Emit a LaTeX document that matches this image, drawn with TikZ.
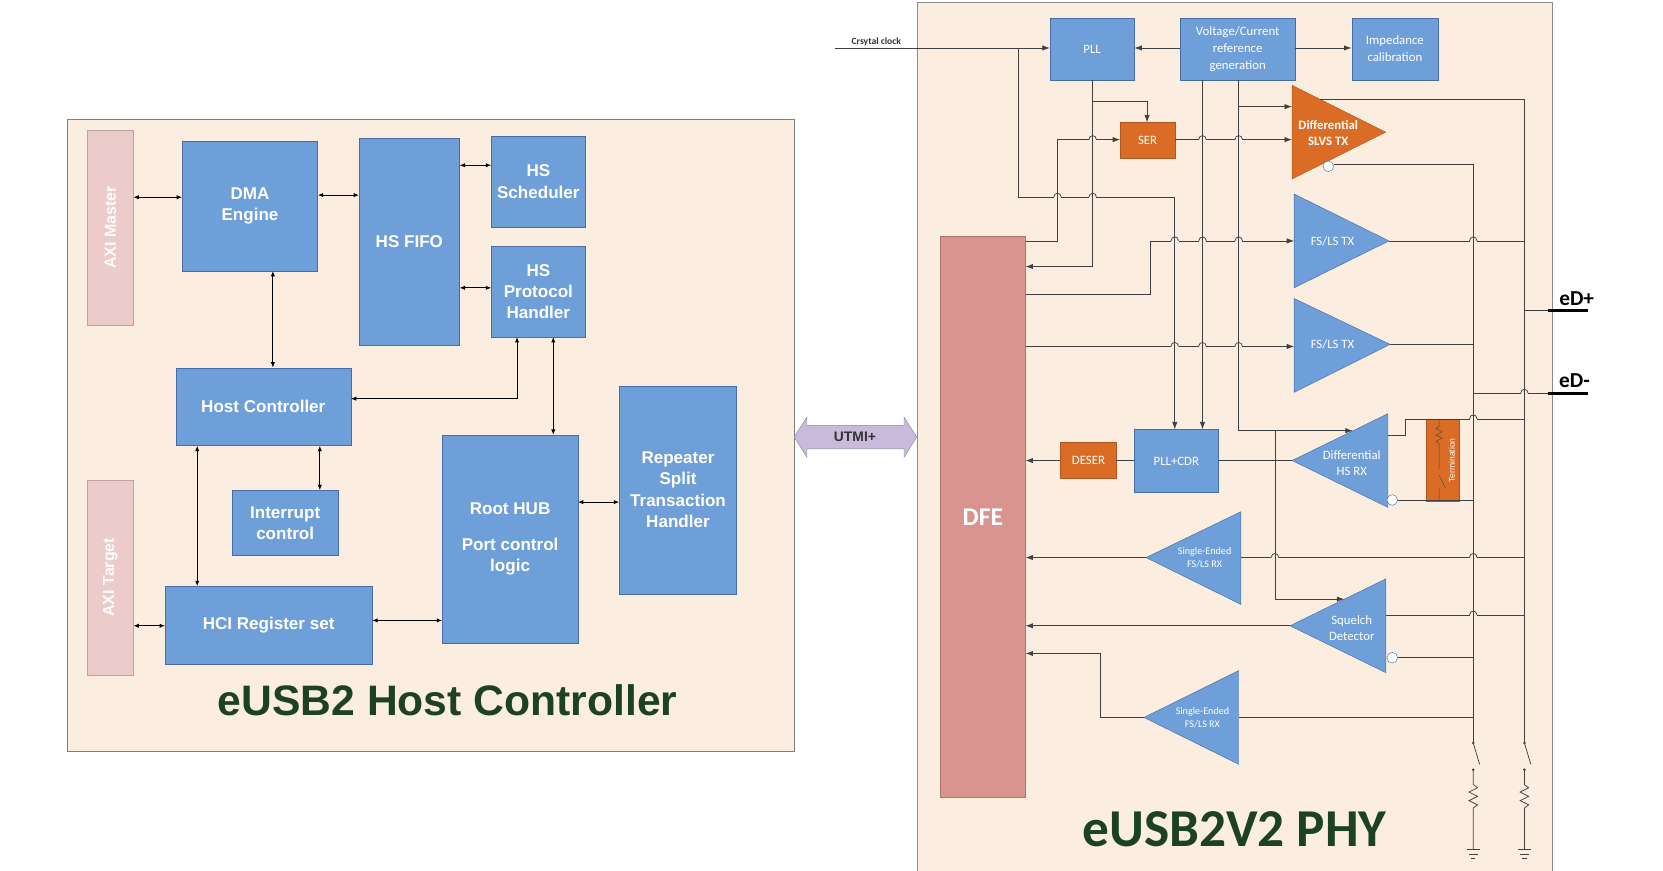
\documentclass[tikz,border=0pt]{standalone}
\usepackage{fontspec}
\setmainfont{Liberation Sans}
\newfontfamily\carl{Carlito}
\usetikzlibrary{arrows.meta}
\definecolor{peach}{RGB}{252,237,225}
\definecolor{blu}{RGB}{111,159,216}
\definecolor{bord}{RGB}{70,110,165}
\definecolor{pinkb}{RGB}{236,204,202}
\definecolor{dfec}{RGB}{217,148,143}
\definecolor{orng}{RGB}{218,108,38}
\definecolor{dgreen}{RGB}{28,66,34}
\definecolor{lav}{RGB}{201,186,220}
\newcommand\bx[7]{\node[#7, minimum width={(#4-#2)*1pt}, minimum height={(#5-#3)*1pt}] (#1) at ({(#2+#4)/2},{(#3+#5)/2}) {#6};}
\newcommand\hp[2]{\fill[peach] (#1-3.5,#2-1.2) rectangle (#1+3.5,#2+1.2); \draw[wire] (#1-3.5,#2) .. controls (#1-3.5,#2-5) and (#1+3.5,#2-5) .. (#1+3.5,#2);}
\begin{document}
\begin{tikzpicture}[x=1pt,y=-1pt,
  blk/.style={draw=bord, fill=blu, text=white, align=center, inner sep=0pt, font=\fontsize{16}{20}\selectfont\bfseries},
  pblk/.style={draw=bord, fill=blu, text=white, align=center, inner sep=0pt, font=\carl\fontsize{12}{16}\selectfont},
  oblk/.style={draw=orng!80!black, fill=orng, text=white, align=center, inner sep=0pt, font=\carl\fontsize{12}{16}\selectfont},
  axi/.style={draw=pinkb!80!black, fill=pinkb, text=white!95!pinkb, inner sep=0pt, font=\fontsize{15}{18}\selectfont\bfseries},
  da/.style={{Latex[length=5pt,width=4pt]}-{Latex[length=5pt,width=4pt]}, line width=0.8pt},
  wire/.style={draw=black!75, line width=0.7pt},
  ar/.style={wire, -{Latex[length=7pt,width=5pt]}},
  tri/.style={draw=bord, fill=blu},
  tl/.style={text=white, align=center, font=\carl\fontsize{12}{15}\selectfont},
  tls/.style={text=white, align=center, font=\carl\fontsize{9.5}{12}\selectfont}]
\useasboundingbox (0,0) rectangle (1560,817);
% ---------- host controller ----------
\bx{HCbox}{63}{112}{745}{705}{}{draw=black!50, fill=peach}
\bx{axm}{82}{122}{125}{305}{}{axi}
\node[rotate=90, text=white!92!pinkb, font=\fontsize{15}{18}\selectfont\bfseries] at (axm) {AXI Master};
\bx{axt}{82}{450}{125}{633}{}{axi}
\node[rotate=90, text=white!92!pinkb, font=\fontsize{15}{18}\selectfont\bfseries] at (axt) {AXI Target};
\bx{dma}{171}{132}{298}{254}{DMA\\Engine}{blk}
\bx{fifo}{337}{130}{431}{324}{HS FIFO}{blk}
\bx{sch}{461}{128}{549}{213}{HS\\Scheduler}{blk}
\bx{proto}{461}{231}{549}{316}{HS\\Protocol\\Handler}{blk}
\bx{host}{165}{345}{329}{418}{Host Controller}{blk}
\bx{intr}{218}{460}{317}{521}{Interrupt\\control}{blk}
\bx{hci}{155}{550}{349}{623}{HCI Register set}{blk}
\bx{root}{415}{408}{542}{603}{Root HUB\\[14pt]Port control\\logic}{blk}
\bx{rep}{581}{362}{691}{557}{Repeater\\Split\\Transaction\\Handler}{blk}
\node[text=dgreen, font=\fontsize{40}{44}\selectfont\bfseries] (t1) at (420,657) {eUSB2 Host Controller};
\draw[da] (axm.east|-0,185) -- (dma.west|-0,185);
\draw[da] (dma.east|-0,183) -- (fifo.west|-0,183);
\draw[da] (fifo.east|-0,155) -- (sch.west|-0,155);
\draw[da] (fifo.east|-0,270) -- (proto.west|-0,270);
\draw[da] (256,0|-dma.south) -- (256,0|-host.north);
\draw[da] (host.east|-0,374) -- (485,374) -- (485,0|-proto.south);
\draw[da] (519,0|-proto.south) -- (519,0|-root.north);
\draw[da] (300,0|-host.south) -- (300,0|-intr.north);
\draw[da] (185,0|-host.south) -- (185,0|-hci.north);
\draw[da] (axt.east|-0,587) -- (hci.west|-0,587);
\draw[da] (hci.east|-0,582) -- (root.west|-0,582);
\draw[da] (root.east|-0,471) -- (rep.west|-0,471);
% UTMI+
\draw[draw=black!45, fill=lav] (745,410) -- (757,391) -- (757,399) -- (848,399) -- (848,391) -- (860,410) -- (848,429) -- (848,421) -- (757,421) -- (757,429) -- cycle;
\node[font=\fontsize{13}{15}\selectfont\bfseries, text=black!80] (utmi) at (802,410) {UTMI+};
% ---------- PHY ----------
\bx{PHYbox}{860}{2}{1456}{818}{}{draw=black!45, fill=peach}
\node[text=dgreen, font=\carl\fontsize{50}{54}\selectfont\bfseries] (t2) at (1158,778) {eUSB2V2 PHY};
\bx{pll}{985}{17}{1064}{75}{PLL}{pblk}
\bx{vc}{1107}{17}{1215}{75}{Voltage/Current\\reference\\generation}{pblk}
\bx{ic}{1268}{17}{1349}{75}{Impedance\\calibration}{pblk}
\bx{ser}{1051}{115}{1102}{148}{SER}{oblk}
\bx{dfe}{882}{222}{962}{748}{}{draw=dfec!80!black, fill=dfec}
\node[text=white, font=\carl\fontsize{24}{28}\selectfont\bfseries] at (922,485) {DFE};
\bx{deser}{995}{415}{1047}{449}{DESER}{oblk}
\bx{cdr}{1064}{403}{1143}{462}{PLL+CDR}{pblk}
\node[font=\carl\fontsize{9}{11}\selectfont\bfseries, text=black!80] (cc) at (822,39) {Crsytal clock};
% triangles
\draw[draw=orng!80!black, fill=orng] (1212,80) -- (1300,124) -- (1212,168) -- cycle;
\node[tl, font=\carl\fontsize{12}{15}\selectfont\bfseries] at (1246,125) {Differential\\SLVS TX};
\draw[tri] (1214,182) -- (1303,226) -- (1214,270) -- cycle; \node[tl] at (1250,226) {FS/LS TX};
\draw[tri] (1214,280) -- (1304,323) -- (1214,368) -- cycle; \node[tl] at (1250,323) {FS/LS TX};
\draw[tri] (1302,388) -- (1212,432) -- (1302,476) -- cycle; \node[tl] at (1268,434) {Differential\\HS RX};
\draw[tri] (1164,480) -- (1075,523) -- (1164,567) -- cycle; \node[tls] at (1130,523) {Single-Ended\\FS/LS RX};
\draw[tri] (1300,543) -- (1210,587) -- (1300,631) -- cycle; \node[tl] at (1268,589) {Squelch\\Detector};
\draw[tri] (1162,629) -- (1073,673) -- (1162,717) -- cycle; \node[tls] at (1128,673) {Single-Ended\\FS/LS RX};
% termination
\bx{term}{1338}{393}{1369}{470}{}{draw=orng!80!black, fill=orng}
\node[rotate=90, text=white, font=\fontsize{8}{10}\selectfont] at (1362,432) {Termination};
\draw[black!70, line width=0.5pt] (1350,393) -- (1350,400) -- (1347,402) -- (1353,405) -- (1347,408) -- (1353,411) -- (1347,414) -- (1350,416) -- (1350,440) (1350,446) -- (1356,458) (1350,458) -- (1350,470);
% ---------- wires ----------
\draw[ar] (783,45) -- (pll.west|-0,45);
\draw[ar] (vc.west|-0,45) -- (pll.east|-0,45);
\draw[ar] (vc.east|-0,45) -- (ic.west|-0,45);
\draw[ar] (955,45) -- (955,185) -- (1102,185) -- (1102,0|-cdr.north);
\draw[ar] (1128,0|-vc.south) -- (1128,0|-cdr.north);
\draw[ar] (1162,0|-vc.south) -- (1162,404) -- (1269,404);
\draw[ar] (1196,404) -- (1196,562) -- (1261,562);
\draw[ar] (1162,100) -- (1212,100);
\draw[ar] (1025,0|-pll.south) -- (1025,250) -- (962,250);
\draw[ar] (1025,95) -- (1076,95) -- (1076,0|-ser.north);
\draw[ar] (962,226) -- (992,226) -- (992,131) -- (ser.west|-0,131);
\draw[ar] (ser.east|-0,131) -- (1212,131);
\draw[ar] (962,276) -- (1079,276) -- (1079,226) -- (1214,226);
\draw[ar] (962,325) -- (1214,325);
\draw[wire] (1212,432) -- (cdr.east|-0,432);
\draw[wire] (cdr.west|-0,432) -- (deser.east|-0,432);
\draw[ar] (deser.west|-0,432) -- (962,432);
\draw[ar] (1075,523) -- (962,523);
\draw[ar] (1210,587) -- (962,587);
\draw[ar] (1073,673) -- (1032,673) -- (1032,613) -- (962,613);
% outputs
\draw[wire] (1238,93) -- (1430,93);
\draw[wire] (1251,154) -- (1382,154);
\draw[wire] (1303,226) -- (1430,226);
\draw[wire] (1304,323) -- (1382,323);
\draw[wire] (1430,291) -- (1490,291);
\draw[wire] (1382,369) -- (1490,369);
\draw[wire] (1302,408) -- (1318,408) -- (1318,393) -- (1430,393);
\draw[wire] (1310,469) -- (1382,469);
\draw[wire] (1164,523) -- (1430,523);
\draw[wire] (1300,577) -- (1430,577);
\draw[wire] (1310,617) -- (1382,617);
\draw[wire] (1162,673) -- (1382,673);
% hops
\hp{992}{185}\hp{1025}{185}\hp{1025}{131}\hp{1128}{131}\hp{1162}{131}
\foreach \x in {1102,1128,1162} {\hp{\x}{226}\hp{\x}{325}}
\hp{1382}{226}\hp{1430}{369}\hp{1382}{393}\hp{1196}{523}\hp{1382}{523}\hp{1382}{577}
% verticals redrawn
\draw[wire] (992,131) -- (992,226) (1025,75) -- (1025,250) (1102,185) -- (1102,398) (1128,75) -- (1128,398) (1162,75) -- (1162,404) (1196,404) -- (1196,562);
\draw[wire] (1382,154) -- (1382,697) (1430,93) -- (1430,697);
% bubbles
\draw[bord, fill=white] (1246,156) circle (5);
\draw[bord, fill=white] (1306,469) circle (5);
\draw[bord, fill=white] (1306,617) circle (5);
% switches, resistors, ground
\foreach \x in {1382,1430} {
  \fill[black!75] (\x,697) circle (1.3) (\x,722) circle (1.3);
  \draw[wire] (\x,697) -- (\x+6,717) (\x,722) -- (\x,736) -- (\x+4,739) -- (\x-4,743) -- (\x+4,747) -- (\x-4,751) -- (\x+4,755) -- (\x,758) -- (\x,797);
  \draw[wire] (\x-6,797) -- (\x+6,797) (\x-4,801) -- (\x+4,801) (\x-2,805) -- (\x+2,805);
}
\draw[line width=3pt] (1452,291) -- (1490,291) (1452,369) -- (1490,369);
\node[font=\carl\fontsize{20}{22}\selectfont\bfseries] (edp) at (1479,280) {eD+};
\node[font=\carl\fontsize{20}{22}\selectfont\bfseries] (edm) at (1477,357) {eD-};
\end{tikzpicture}
\end{document}
